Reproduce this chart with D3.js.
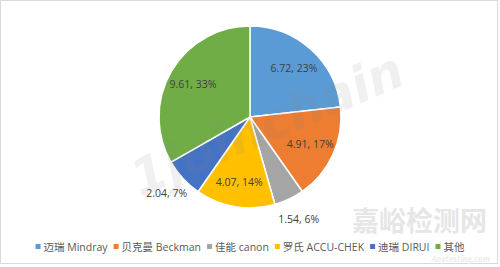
<!DOCTYPE html>
<html>
<head>
<meta charset="utf-8">
<script src="https://cdn.jsdelivr.net/npm/d3@7"></script>
<style>
	html, body { margin: 0; padding: 0; background: #fff; }
	svg text { font-family: "Open Sans", "Noto Sans CJK SC", sans-serif; }
</style>
</head>
<body>
<svg id="chart"></svg>
<script>
	'use strict';
	// values
	var brands = ['迈瑞 Mindray', '贝克曼 Beckman', '佳能 canon', '罗氏 ACCU-CHEK', '迪瑞 DIRUI', '其他'];
	var values = [6.72, 4.91, 1.54, 4.07, 2.04, 9.61];
	var percentLabels = ['23%', '17%', '6%', '14%', '7%', '33%'];
	var colors = ['#5b9bd5', '#ed7d31', '#a5a5a5', '#ffc000', '#4472c4', '#70ad47'];

	var width = 500, height = 267;
	var cx = 250, cy = 117, radius = 91;

	var svg = d3.select('#chart')
		.attr('width', width)
		.attr('height', height);

	svg.append('rect')
		.attr('x', 0.5).attr('y', 0.5)
		.attr('width', 497).attr('height', 263)
		.attr('fill', '#fff')
		.attr('stroke', '#d9d9d9');

	// bottom-right watermarks
	svg.append('text')
		.attr('x', 487).attr('y', 231)
		.attr('text-anchor', 'end')
		.attr('font-size', 27)
		.attr('font-weight', 'bold')
		.attr('fill', '#e6e6e6')
		.style('font-family', '"Noto Sans CJK SC", sans-serif')
		.text('嘉峪检测网');

	svg.append('text')
		.attr('x', 490).attr('y', 262)
		.attr('text-anchor', 'end')
		.attr('font-size', 8)
		.attr('font-style', 'italic')
		.attr('font-weight', 'bold')
		.attr('fill', '#ececec')
		.text('Anytesting.com');

	var pie = d3.pie().sort(null).startAngle(0).endAngle(2 * Math.PI);
	var arcs = pie(values);
	var total = d3.sum(values);

	var arc = d3.arc().innerRadius(0).outerRadius(radius);
	var inLabel = d3.arc().innerRadius(66).outerRadius(66);
	var outLabel = d3.arc().innerRadius(113).outerRadius(113);

	var g = svg.append('g')
		.attr('transform', 'translate(' + cx + ',' + cy + ')');

	g.selectAll('path.slice')
		.data(arcs)
		.enter()
		.append('path')
		.attr('class', 'slice')
		.attr('d', arc)
		.attr('fill', function (d, i) { return colors[i]; })
		.attr('stroke', '#fff')
		.attr('stroke-width', 1.5)
		.attr('stroke-linejoin', 'round');

	// diagonal watermark
	svg.append('text')
		.attr('transform', 'translate(140,197) rotate(-23)')
		.attr('font-size', 50)
		.attr('font-weight', 'bold')
		.attr('font-style', 'italic')
		.attr('fill', '#808080')
		.attr('fill-opacity', 0.12)
		.style('font-family', '"DejaVu Sans", sans-serif')
		.text('1joinchain');

	g.selectAll('text.lbl')
		.data(arcs)
		.enter()
		.append('text')
		.attr('class', 'lbl')
		.attr('transform', function (d) {
			var small = d.value / total < 0.08;
			var p = (small ? outLabel : inLabel).centroid(d);
			return 'translate(' + p[0] + ',' + p[1] + ')';
		})
		.attr('text-anchor', 'middle')
		.attr('dy', '0.35em')
		.attr('font-size', 10.5)
		.attr('fill', '#404040')
		.text(function (d, i) { return values[i].toFixed(2) + ', ' + percentLabels[i]; });

	// legend, laid out from measured text widths and centred
	var legend = svg.append('g');
	var x = 0;
	brands.forEach(function (name, i) {
		var item = legend.append('g').attr('transform', 'translate(' + x + ',0)');
		item.append('rect')
			.attr('x', 0).attr('y', -3)
			.attr('width', 5).attr('height', 5)
			.attr('fill', colors[i]);
		var t = item.append('text')
			.attr('x', 8).attr('y', 0)
			.attr('dy', '0.35em')
			.attr('font-size', 10.5)
			.attr('fill', '#595959')
			.text(name);
		x += 8 + t.node().getComputedTextLength() + 6;
	});
	legend.attr('transform', 'translate(' + (cx - (x - 6) / 2) + ',247)');
</script>
</body>
</html>
